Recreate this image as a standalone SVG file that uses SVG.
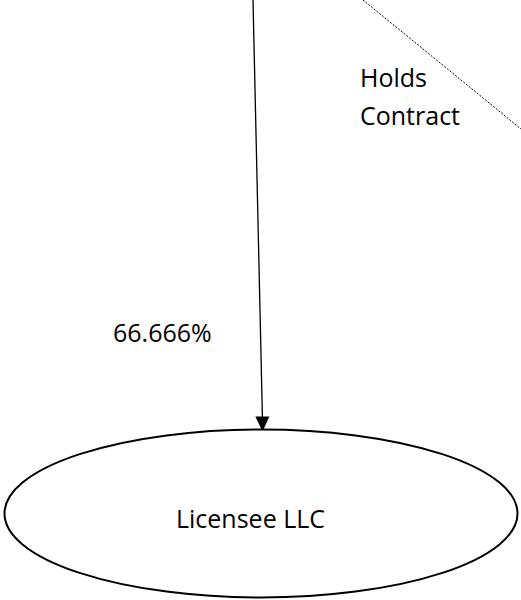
<svg xmlns="http://www.w3.org/2000/svg" width="521" height="600" viewBox="0 0 521 600">
<style>
text{font-family:"Open Sans","Liberation Sans",sans-serif;font-size:25px;fill:#000}
.solid{stroke:#000;stroke-width:1.3;fill:none}
.dash{stroke:#000;stroke-width:1;fill:none;stroke-dasharray:2 1.5}
</style>
<defs>
<marker id="arr" markerWidth="14" markerHeight="15" refX="7" refY="15" orient="auto-start-reverse" markerUnits="userSpaceOnUse" viewBox="0 0 14 15">
<path d="M0,0 L14,0 L7,15 Z" fill="#000"/>
</marker>
</defs>
<rect width="521" height="600" fill="#fff"/>
<g id="connectors">
<line class="solid" x1="253" y1="0" x2="262.4" y2="417"/>
<path d="M255.4,416.5 L269.4,416.5 L262.5,431.5 Z" fill="#000"/>
<line class="dash" x1="363" y1="0" x2="521" y2="129"/>
</g>
<g id="label-holds">
<text x="360" y="87">Holds</text>
<text x="360" y="125">Contract</text>
</g>
<g id="label-pct">
<text x="113" y="342">66.666%</text>
</g>
<g id="licensee">
<ellipse cx="261" cy="513.5" rx="256.5" ry="84" fill="#fff" stroke="#000" stroke-width="2"/>
<text x="176" y="528">Licensee LLC</text>
</g>
</svg>
